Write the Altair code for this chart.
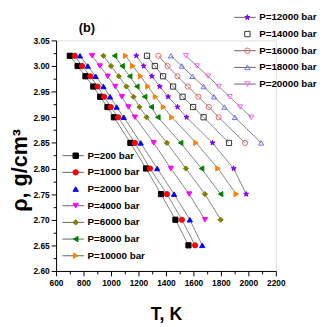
import altair as alt
import pandas as pd

rho = [3.02, 3.00, 2.98, 2.96, 2.94, 2.92, 2.90, 2.85, 2.80, 2.75, 2.70, 2.65]

T_200 = [700, 757, 814, 871, 921, 974, 1021, 1141, 1255, 1364, 1469, 1564]
T_1000 = [736, 789, 850, 902, 950, 998, 1052, 1174, 1284, 1407, 1516, 1612]
T_2000 = [774, 831, 888, 945, 993, 1041, 1093, 1216, 1336, 1459, 1574, 1664]
T_4000 = [862, 919, 976, 1031, 1079, 1126, 1174, 1311, 1436, 1569, 1684]
T_6000 = [945, 1000, 1057, 1112, 1164, 1207, 1259, 1407, 1545, 1684, 1798]
T_8000 = [1026, 1081, 1136, 1188, 1245, 1293, 1341, 1507, 1659, 1798]
T_10000 = [1107, 1159, 1216, 1269, 1324, 1382, 1443, 1619, 1779, 1912]
T_12000 = [1184, 1238, 1298, 1355, 1416, 1484, 1550, 1739, 1893, 1984]
T_14000 = [1262, 1319, 1379, 1452, 1521, 1598, 1674, 1859]
T_16000 = [1345, 1412, 1484, 1559, 1636, 1712, 1784, 1976]
T_18000 = [1436, 1516, 1593, 1674, 1750, 1826, 1902, 2093]
T_20000 = [1545, 1626, 1707, 1784, 1864, 1941, 2021]

names = ["P=200 bar", "P=1000 bar", "P=2000 bar", "P=4000 bar", "P=6000 bar",
         "P=8000 bar", "P=10000 bar", "P=12000 bar", "P=14000 bar",
         "P=16000 bar", "P=18000 bar", "P=20000 bar"]
temps = [T_200, T_1000, T_2000, T_4000, T_6000, T_8000, T_10000,
         T_12000, T_14000, T_16000, T_18000, T_20000]

x_ticks = [600, 800, 1000, 1200, 1400, 1600, 1800, 2000, 2200]
x_minor = [700, 900, 1100, 1300, 1500, 1700, 1900, 2100]
y_ticks = [2.60, 2.65, 2.70, 2.75, 2.80, 2.85, 2.90, 2.95, 3.00, 3.05]
y_minor = [2.625, 2.675, 2.725, 2.775, 2.825, 2.875, 2.925, 2.975, 3.025]

STAR = ("M0,-1L0.235,-0.324L0.951,-0.309L0.380,0.124L0.588,0.809L0,0.4"
        "L-0.588,0.809L-0.380,0.124L-0.951,-0.309L-0.235,-0.324Z")

groupA = names[:7]
groupB = names[7:]
colA = ["#000000", "#FF0000", "#0000FF", "#FF00FF", "#808000", "#008000", "#FF8000"]
shpA = ["square", "circle", "triangle-up", "triangle-down", "diamond",
        "triangle-left", "triangle-right"]
strokeB = ["#8000FF", "#333333", "#FF6060", "#6E6EFF", "#FF60FF"]
fillB = ["#8000FF", "transparent", "transparent", "transparent", "transparent"]
shpB = [STAR, "square", "circle", "triangle-up", "triangle-down"]
no_stub = ["P=2000 bar", "P=14000 bar"]

rows = []
for n, ts in zip(names, temps):
    for t, r in zip(ts, rho):
        rows.append({"series": n, "T": t, "rho": r})
df = pd.DataFrame(rows)
dfA = df[df["series"].isin(groupA)]
dfB = df[df["series"].isin(groupB)]

FONT = "Liberation Sans, Arial, sans-serif"

xs = alt.Scale(domain=[600, 2200], nice=False, zero=False)
ys = alt.Scale(domain=[2.60, 3.05], nice=False, zero=False)

x_major = alt.X("T:Q", scale=xs, axis=alt.Axis(
    values=x_ticks, format="d", title="T, K", orient="bottom", grid=False,
    labelFont=FONT, labelFontSize=8.5, labelFontWeight="bold", labelColor="black",
    tickSize=5, tickColor="black", domainColor="black", labelPadding=3,
    labelOverlap=False, labelFlush=False,
    titleFont=FONT, titleFontSize=18, titleFontWeight="bold", titleColor="black",
    titleX=112, titleY=44, titleBaseline="middle", titleAlign="center"))
y_major = alt.Y("rho:Q", scale=ys, axis=alt.Axis(
    values=y_ticks, format=".2f", title="ρ, g/cm³", orient="left", grid=False,
    labelFont=FONT, labelFontSize=8.5, labelFontWeight="bold", labelColor="black",
    tickSize=5, tickColor="black", domainColor="black", labelPadding=2,
    labelOverlap=False, labelFlush=False,
    titleFont=FONT, titleFontSize=22, titleFontWeight="bold", titleColor="black",
    titleX=-37, titleY=132, titleBaseline="middle", titleAlign="center", titleAngle=270))
x_min = alt.X("T:Q", scale=xs, axis=alt.Axis(
    values=x_minor, labels=False, domain=False, grid=False, title=None,
    orient="bottom", tickSize=3, tickColor="black"))
y_min = alt.Y("rho:Q", scale=ys, axis=alt.Axis(
    values=y_minor, labels=False, domain=False, grid=False, title=None,
    orient="left", tickSize=3, tickColor="black"))
x_none = alt.X("T:Q", scale=xs, axis=None)
y_none = alt.Y("rho:Q", scale=ys, axis=None)

stub_expr = "(" + " || ".join("datum.value === '%s'" % s for s in no_stub) + ") ? 0 : 1"


def line_legend(lx, ly):
    return alt.Legend(orient="none", legendX=lx, legendY=ly, title=None,
                      labelFont=FONT, labelFontSize=10, labelFontWeight="bold",
                      labelOpacity=0, symbolType="stroke", symbolSize=484,
                      symbolStrokeWidth=1, rowPadding=4, padding=0, clipHeight=13,
                      symbolOpacity={"expr": stub_expr})


def pt_legend(lx, ly):
    return alt.Legend(orient="none", legendX=lx, legendY=ly, title=None,
                      labelFont=FONT, labelFontSize=10, labelFontWeight="bold",
                      labelColor="black", symbolSize=30, symbolStrokeWidth=1,
                      rowPadding=4, padding=0, labelOffset=7, clipHeight=13)


linesA = alt.Chart(dfA).mark_line(strokeWidth=0.8).encode(
    x=x_major, y=y_major,
    color=alt.Color("series:N", sort=groupA,
                    scale=alt.Scale(domain=groupA, range=["#666666"] * 7),
                    legend=line_legend(6, 111)))
linesB = alt.Chart(dfB).mark_line(strokeWidth=0.8).encode(
    x=x_none, y=y_none,
    color=alt.Color("series:N", sort=groupB,
                    scale=alt.Scale(domain=groupB, range=["#666666"] * 5),
                    legend=line_legend(181, -30)))

legA = pt_legend(15, 111)
pointsA = alt.Chart(dfA).mark_point(opacity=1, strokeWidth=1, size=28).encode(
    x=x_min, y=y_min,
    fill=alt.Fill("series:N", sort=groupA, scale=alt.Scale(domain=groupA, range=colA), legend=legA),
    stroke=alt.Stroke("series:N", sort=groupA, scale=alt.Scale(domain=groupA, range=colA), legend=legA),
    shape=alt.Shape("series:N", sort=groupA, scale=alt.Scale(domain=groupA, range=shpA), legend=legA))

legB = pt_legend(190, -30)
pointsB = alt.Chart(dfB).mark_point(opacity=1, strokeWidth=1, size=28).encode(
    x=x_none, y=y_none,
    fill=alt.Fill("series:N", sort=groupB, scale=alt.Scale(domain=groupB, range=fillB), legend=legB),
    stroke=alt.Stroke("series:N", sort=groupB, scale=alt.Scale(domain=groupB, range=strokeB), legend=legB),
    shape=alt.Shape("series:N", sort=groupB, scale=alt.Scale(domain=groupB, range=shpB), legend=legB))

chart = alt.layer(linesA, linesB, pointsA, pointsB).resolve_scale(
    color="independent", fill="independent", stroke="independent", shape="independent"
).resolve_axis(x="independent", y="independent").properties(
    width=224, height=235,
    title=alt.TitleParams("(b)", anchor="start", frame="group", dx=23, dy=30, offset=6,
                          font=FONT, fontSize=13, fontWeight="bold", color="black"),
    padding={"left": 49, "top": 30, "right": 44, "bottom": 50},
    autosize=alt.AutoSizeParams(type="none"),
).configure_view(stroke=None).configure(background="white")

chart.save("out.html", embed_options={"renderer": "svg", "actions": False})
